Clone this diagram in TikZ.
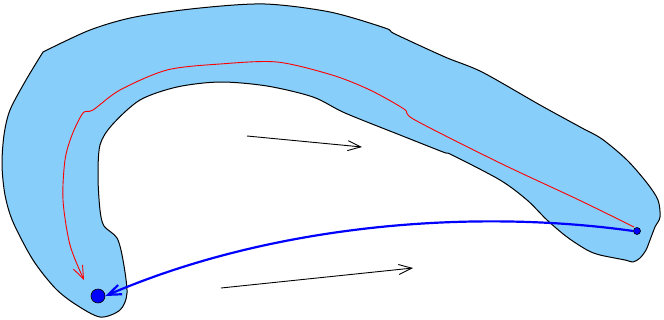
\documentclass[tikz,border=0pt]{standalone}
\usepackage{tikz}
\usetikzlibrary{calc,arrows.meta}
\definecolor{sheetblue}{RGB}{135,206,250}

\begin{document}
\begin{tikzpicture}[x=1pt,y=-1pt,>={Straight Barb[length=13pt,width=10pt]},
  dot/.style={circle,draw=black,fill=blue,inner sep=0pt,line width=0.6pt}]
  \useasboundingbox (0,0) rectangle (664,319);

  % Curved sheet (shaded region), sharp corner at top left
  \filldraw[fill=sheetblue,draw=black,line width=1pt,line join=round] plot[smooth,tension=0.5] coordinates {
    (43,52) (90,30) (135,17) (200,8) (265,4) (330,12) (385,28) (395,34)
    (445,57) (482,72) (540,105) (582,128) (602,139) (627,160) (647,183)
    (658,200) (660,217) (655,227) (650,240) (646,250) (640,258) (633,262)
    (625,260) (600,255) (587,250) (567,237) (547,220) (527,200) (500,180)
    (452,155) (443,152) (400,135) (345,113) (313,97) (267,86) (220,82)
    (177,87) (140,100) (112,125) (100,145) (98,177) (100,210) (104,226)
    (117,238) (123,260) (127,293) (120,310) (100,317) (75,304) (55,288)
    (33,260) (13,222) (5,195) (2,165) (4,135) (10,110) (26,80) (43,52)} -- cycle;

  % End points
  \node[dot,minimum size=14pt] (start) at (98,296) {};
  \node[dot,minimum size=7pt] (finish) at (637,231) {};
  \coordinate (redtop) at (634,227);

  % Path inside the sheet
  \draw[->,red,line width=0.9pt] plot[smooth,tension=0.5] coordinates {
    (redtop) (579,200) (500,163) (415,120) (404,109) (370,90) (332,75)
    (277,62) (220,64) (167,70) (120,90) (93,110) (83,113) (72,135)
    (65,160) (63,200) (70,245) (84,280)};

  % Direct connection
  \draw[->,blue,line width=2.2pt] (finish.west) .. controls (470,208) and (270,225) .. (start.east);

  % Direction arrows
  \coordinate (a1) at (247,136);
  \coordinate (b1) at (362,147);
  \coordinate (a2) at (221,288);
  \coordinate (b2) at (413,268);
  \draw[->,line width=0.9pt] (a1) -- (b1);
  \draw[->,line width=0.9pt] (a2) -- (b2);
\end{tikzpicture}
\end{document}
